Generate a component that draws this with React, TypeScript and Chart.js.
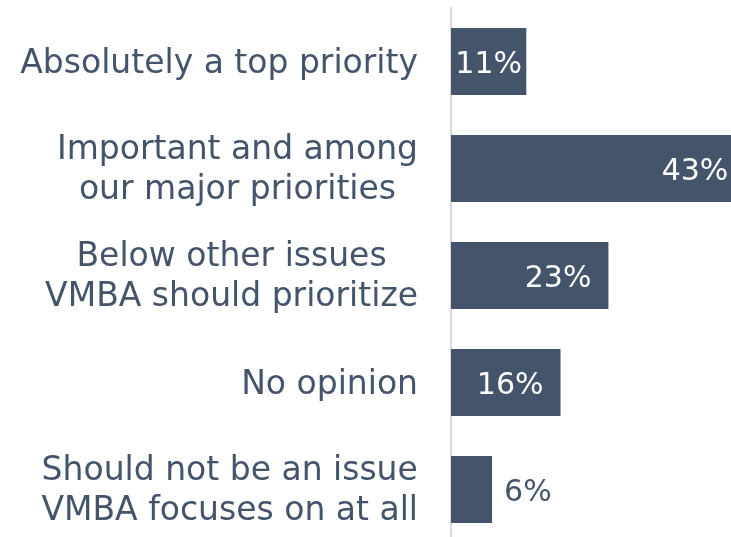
import React, { useEffect, useRef } from "react";
import { Chart, registerables } from "chart.js";

Chart.register(...registerables);

const categories: string[][] = [
  ["Absolutely a top priority"],
  ["Important and among", "our major priorities"],
  ["Below other issues", "VMBA should prioritize"],
  ["No opinion"],
  ["Should not be an issue", "VMBA focuses on at all"],
];
const values: number[] = [11, 43, 23, 16, 6];
const valueLabels: string[] = ["11%", "43%", "23%", "16%", "6%"];

const TEXT = "#44546A";
const BAR = "#44546A";
const FONT = "DejaVu Sans";

const labelPlugin = {
  id: "customLabels",
  afterDatasetsDraw(chart: any) {
    const ctx = chart.ctx as CanvasRenderingContext2D;
    const yScale = chart.scales.y;
    const area = chart.chartArea;
    const meta = chart.getDatasetMeta(0);
    ctx.save();
    // category labels (block right-aligned, lines centered)
    ctx.font = `33px "${FONT}"`;
    ctx.fillStyle = TEXT;
    ctx.textAlign = "center";
    ctx.textBaseline = "alphabetic";
    const rightEdge = area.left - 33;
    categories.forEach((lines, i) => {
      const y = yScale.getPixelForValue(i);
      const widths = lines.map((l) => ctx.measureText(l).width);
      const block = Math.max(...widths);
      const cx = rightEdge - block / 2;
      const n = lines.length;
      lines.forEach((l, k) => {
        ctx.fillText(l, cx, y + 11 - (n - 1) * 21 + k * 40);
      });
    });
    // value labels
    ctx.font = `30px "${FONT}"`;
    meta.data.forEach((bar: any, i: number) => {
      const txt = valueLabels[i];
      const w = ctx.measureText(txt).width;
      const barEnd = bar.x;
      const barLeft = bar.base;
      const barW = barEnd - barLeft;
      const y = bar.y + 11;
      if (barW > w + 4) {
        const right = Math.max(barEnd - 17, barLeft + (barW + w) / 2);
        ctx.textAlign = "right";
        ctx.fillStyle = "#FFFFFF";
        ctx.fillText(txt, right, y);
      } else {
        ctx.textAlign = "left";
        ctx.fillStyle = TEXT;
        ctx.fillText(txt, barEnd + 12, y);
      }
    });
    ctx.restore();
  },
};

export default function App() {
  const ref = useRef<HTMLCanvasElement | null>(null);
  useEffect(() => {
    if (!ref.current) return;
    const chart = new Chart(ref.current, {
      type: "bar",
      data: {
        labels: categories.map((c) => c.join(" ")),
        datasets: [
          {
            data: values,
            backgroundColor: BAR,
            borderWidth: 0,
            barPercentage: 0.626,
            categoryPercentage: 1,
          },
        ],
      },
      options: {
        indexAxis: "y",
        responsive: false,
        animation: false,
        devicePixelRatio: 1,
        layout: { padding: { top: 8, bottom: 2, left: 0, right: 1 } },
        plugins: { legend: { display: false }, tooltip: { enabled: false } },
        scales: {
          x: { display: false, min: 0, max: 45 },
          y: {
            afterFit: (scale: any) => {
              scale.width = 451;
            },
            grid: { display: false, drawTicks: false },
            border: { display: true, color: "#D9D9D9", width: 2 },
            ticks: { display: false },
          },
        },
      },
      plugins: [labelPlugin],
    });
    return () => chart.destroy();
  }, []);
  return (
    <div
      style={{
        position: "fixed",
        left: 0,
        top: 0,
        width: 731,
        height: 537,
        overflow: "hidden",
        background: "#fff",
      }}
    >
      <canvas ref={ref} width={760} height={545} style={{ display: "block" }} />
    </div>
  );
}
